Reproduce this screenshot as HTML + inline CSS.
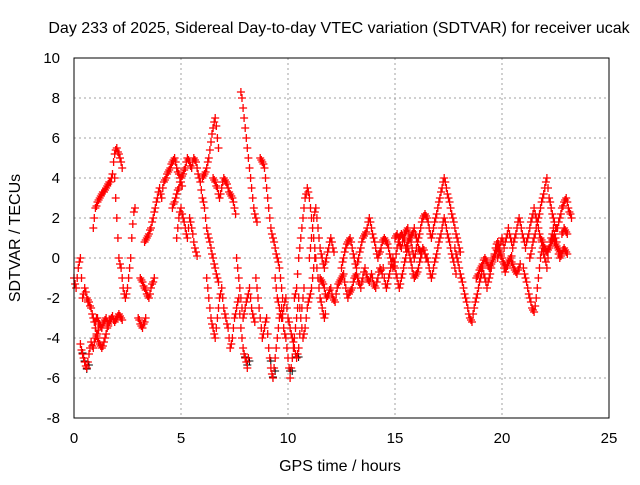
<!DOCTYPE html>
<html><head><meta charset="utf-8"><style>
body{margin:0;background:#fff}
svg text{font-family:"Liberation Sans",sans-serif;font-size:15px;fill:#000}
</style></head><body>
<svg id="chart" width="640" height="480" viewBox="0 0 640 480" xmlns="http://www.w3.org/2000/svg">
<rect x="0" y="0" width="640" height="480" fill="#fff"/>
<text x="339" y="33" text-anchor="middle" style="font-size:16px">Day 233 of 2025, Sidereal Day-to-day VTEC variation (SDTVAR) for receiver ucak</text>
<g id="grid"></g>
<g id="ticks"></g>
<g id="marks"></g>
<rect x="74" y="58" width="535" height="360" fill="none" stroke="#000" stroke-width="1"/>
<text x="340" y="471" text-anchor="middle" style="font-size:16px">GPS time / hours</text>
<text transform="translate(20,238) rotate(-90)" text-anchor="middle" style="font-size:16px">SDTVAR / TECUs</text>
</svg>
<script>
const xTicks=[0,5,10,15,20,25];
const yTicks=[-8,-6,-4,-2,0,2,4,6,8,10];
const trackStarts=[0.0,0.3,0.6,0.9,1.0,1.9,3.0,3.1,3.3,4.6,4.8,6.0,6.2,6.5,7.8,7.6,8.5,8.7,9.4,10.3,10.5,11.5,11.0,12.5,14.5,15.0,16.5,17.8,18.8,19.8,21.0,21.3,21.8,22.8,20.0];
const trackStep=0.1;
const trackValues=[
[-1,-1.5,-0.5,0,-2,-1.5,-2],
[-4.3,-4.8,-5.2,-5.5,-4.8,-4.2,-4.5,-4,-3.8],
[-2,-2.2,-2.5,-3,-3.5,-4,-4.3,-4.5,-4.2,-3.8,-3.3],
[1.5,2.5,2.8,3,3.2,3.3,3.5,3.7,3.8,4.2,5.2,5.5,5.2,4.8],
[-3.2,-3,-3.3,-3.5,-3.2,-3,-3.4,-3.1,-2.9,-3.2,-3,-2.8,-3],
[4,2,0,-0.5,-1.5,-2,-1.5,-0.5,1,2.3],
[-3,-3.3,-3.5,-3.2],
[-1,-1.2,-1.5,-1.8,-2,-1.5,-1.2],
[0.8,1,1.2,1.5,2,2.5,3,3.5,3,3.8,4,4.3,4.5,4.8,5,4.5,4.2,3.8],
[2.5,2.8,3.2,3.5,4,4.2,4.5,5,4.8,4.5,5,4.8,4.2,3.8,3,2.5,1.5,1,0.5,0,-0.5,-1],
[1,2,2.5,2,1.5,1,2,1.5,0.8,0.3],
[4,4.2,4.5,5,5.8,6.5,7,6],
[-1,-2,-3,-3.5,-4,-3,-2,-1.5,-2.5,-3,-3.5,-4.5,-4,-3,-2.5,-2,-3.5,-4.5,-5,-5.5],
[4,3.8,3.5,3,3.5,4,3.8,3.5,3.2,3,2.5],
[8.3,7.5,6.5,5.5,4.5,3.5,2.5,2],
[0,-1,-2,-3,-2.5,-2,-1.5,-2.5,-3],
[-1,-2,-3,-4,-3.5,-3,-4.5,-5.5,-6,-5,-4,-3,-2.5,-3.5,-4,-5,-6,-5,-4,-3],
[5,4.8,4.5,3.5,2.5,1.5,1,0.5,0,-0.5,-1.5],
[-1,-2,-2.5,-3,-2.5,-2,-3,-3.5,-4,-4.5,-5,-4.5,-3,-2],
[-2,-1.5,0,1,2,3,3.5,3,2,1,0,-1,-2,-2.5,-3],
[-2,-3,-4,-3.5,-2.5,-2,-1.5,-0.5],
[-1,-1.2,-1.5,-2,-1.8,-1.5,-2,-2.2,-1.5,-1.2,-1,-0.8,-1.5,-2,-1.7,-1.5,-1,-0.8,-1.2,-1.5,-1,-0.5,-1,-1.2,-0.8,-1.3,-1.5,-1,-0.5,-0.8],
[0,1,2,2.5,1.5,0.5,0,-0.5,0,0.5,1,0.5],
[-0.5,0,0.5,0.8,1,0.5,0,-0.5,0,0.5,1,1.2,1.5,2,1.5,1,0.5,0,0.3,0.8,1,0.8,0.5,0,-0.5,-0.2,0.5,1,1.2,1,0.5,0.8,1,1.2,1.5,1,0.5,0.3],
[-1,-1.5,-1,-0.5,0,-0.5,-1,-1.5,-1,-0.5,0,0.5,0,-0.5,-1,-0.8,-0.5,0,0.5,0.2],
[1,1.2,0.8,0.5,1,1.3,1.5,1,0.5,0,0.5,1,1.5,2,2.2,2,1.5,1,1.5,2,2.5,3,3.5,4,3.5,3,2.5,2,1.5,1,0.5],
[0,-0.5,-1,-0.5,0,0.5,1,1.5,2,1.5,1,0.5,0,-0.5],
[0.5,0,-0.5,-1,-1.5,-2,-2.5,-3,-3.2,-2.5,-2,-1.5,-1,-0.5,-1,-1.5,-1,-0.5,0,0.5,0.8,0.5,0,-0.5],
[-1,-0.8,-0.5,-0.3,0,-0.2,-0.5,-0.3,0,0.2,0.5,0.3,0,-0.3,-0.5,-0.2,0],
[0,0.5,1,0.5,1,1.5,1,0.5,1,1.5,2,1.5,1,0.5,1,1.5,2,2.5,2,1.5,1,0.5,0,-0.5,0.5,1,1.5,1,0.5,0],
[-0.5,-1,-1.5,-2,-2.5,-2.7,-2,-1,0],
[0,0.5,1,1.5,2,2.5,3,3.5,4,3,2.5,2,1.5,1.5,2,2.5,2.8,3,2.5,2.2],
[1,0.8,0.5,0.3,0.5,0.8,1,0.7,0.5,0.3,0.2,0.5,0.3],
[1.2,1.5,1.3],
[0,-0.3,-0.5,-0.2,0,-0.3,-0.6,-0.8,-0.5]
];
// second pass samples, offset by half a step (band scatter)
const twinValues=[
[-1.3,-1,-0.2,-1,-1.8,-1.7,-2.2],
[-4.6,-5,-5.4,-5.2,-4.5,-4.4,-4.2,-3.9,-3.6],
[-2.1,-2.4,-2.8,-3.2,-3.8,-4.2,-4.4,-4.4,-4,-3.5,-3.1],
[2,2.6,2.9,3.1,3.3,3.4,3.6,3.8,4,4.8,5.4,5.3,5,4.5],
[-3,-3.2,-3.4,-3.3,-3.1,-3.2,-3.2,-3,-3.1,-3.1,-2.9,-2.9,-3.1],
[3,1,-0.3,-1,-1.8,-1.8,-1,0,1.7,2.5],
[-3.1,-3.4,-3.3,-3],
[-1.1,-1.4,-1.6,-1.9,-1.8,-1.3,-1],
[0.9,1.1,1.4,1.8,2.3,2.8,3.3,3.2,3.5,3.9,4.2,4.4,4.7,4.9,4.8,4.3,4,3.6],
[2.7,3,3.4,3.8,4.1,4.4,4.8,4.9,4.6,4.8,4.9,4.5,4,3.4,2.8,2,1.2,0.8,0.2,-0.3,-0.8,-1.2],
[1.5,2.3,2.2,1.8,1.2,1.5,1.8,1.2,0.5,0.1],
[4.1,4.3,4.8,5.4,6.2,6.8,6.6,5.5],
[-1.5,-2.5,-3.3,-3.8,-3.5,-2.5,-1.8,-2,-2.8,-3.3,-4,-4.3,-3.5,-2.8,-2.2,-2.8,-4,-4.8,-5.2,-5],
[3.9,3.6,3.2,3.2,3.8,3.9,3.7,3.3,3.1,2.8,2.2],
[8,7,6,5,4,3,2.2,1.8],
[-0.5,-1.5,-2.5,-2.8,-2.2,-1.8,-2,-2.8,-3.2],
[-1.5,-2.5,-3.5,-3.8,-3.2,-3.8,-5,-5.8,-5.5,-4.5,-3.5,-2.8,-3,-3.8,-4.5,-5.5,-5.5,-4.5,-3.5,-2.5],
[4.9,4.7,4,3,2,1.2,0.8,0.2,-0.2,-1,-2],
[-1.5,-2.2,-2.8,-2.8,-2.2,-2.5,-3.2,-3.8,-4.2,-4.8,-4.8,-3.8,-2.5,-1.5],
[-1.8,-0.8,0.5,1.5,2.5,3.2,3.3,2.5,1.5,0.5,-0.5,-1.5,-2.2,-2.8,-2.8],
[-2.5,-3.5,-3.8,-3,-2.2,-1.8,-1,0],
[-1.1,-1.3,-1.8,-1.9,-1.6,-1.8,-2.1,-1.8,-1.3,-1.1,-0.9,-1.2,-1.8,-1.8,-1.6,-1.2,-0.9,-1,-1.3,-1.2,-0.7,-0.8,-1.1,-1,-1,-1.4,-1.2,-0.7,-0.6,-0.5],
[0.5,1.5,2.3,2,1,0.2,-0.3,-0.2,0.3,0.8,0.8,0.3],
[-0.2,0.3,0.7,0.9,0.8,0.2,-0.3,-0.2,0.3,0.8,1.1,1.3,1.8,1.8,1.2,0.8,0.2,0.2,0.5,0.9,0.9,0.7,0.2,-0.3,-0.4,0.2,0.8,1.1,1.1,0.8,0.6,0.9,1.1,1.3,1.2,0.8,0.4,0.2],
[-1.3,-1.3,-0.8,-0.2,-0.2,-0.8,-1.3,-1.3,-0.8,-0.2,0.3,0.3,-0.2,-0.8,-0.9,-0.7,-0.2,0.3,0.4,0],
[1.1,1,0.6,0.8,1.2,1.4,1.2,0.8,0.2,0.2,0.8,1.2,1.8,2.1,2.1,1.8,1.2,1.2,1.8,2.2,2.8,3.3,3.8,3.8,3.2,2.8,2.2,1.8,1.2,0.8,0.3],
[-0.2,-0.8,-0.8,-0.2,0.2,0.8,1.2,1.8,1.8,1.2,0.8,0.2,-0.2,-0.8],
[0.2,-0.2,-0.8,-1.2,-1.8,-2.2,-2.8,-3.1,-2.8,-2.2,-1.8,-1.2,-0.8,-0.8,-1.2,-1.2,-0.8,-0.2,0.2,0.7,0.7,0.2,-0.2,-0.7],
[-0.9,-0.6,-0.4,-0.1,-0.1,-0.4,-0.4,-0.1,0.1,0.4,0.4,0.1,-0.2,-0.4,-0.4,-0.1,0.1],
[0.2,0.8,0.8,0.8,1.2,1.2,0.8,0.8,1.2,1.8,1.8,1.2,0.8,0.8,1.2,1.8,2.2,2.2,1.8,1.2,0.8,0.2,-0.2,0,0.8,1.2,1.2,0.8,0.2,0.1],
[-0.8,-1.2,-1.8,-2.2,-2.6,-2.4,-1.5,-0.5,0.3],
[0.2,0.8,1.2,1.8,2.2,2.8,3.2,3.8,3.5,2.8,2.2,1.8,1.5,1.8,2.2,2.6,2.9,2.8,2.3,2],
[0.9,0.6,0.4,0.4,0.6,0.9,0.8,0.6,0.4,0.2,0.4,0.4,0.2],
[1.3,1.4,1.2],
[-0.2,-0.4,-0.3,-0.1,-0.2,-0.5,-0.7,-0.6,-0.3]
];
const X0=74,X1=609,Y0=418,Y1=58;
function xs(t){return X0+(t-0)/(25-0)*(X1-X0);}
function ys(v){return Y0-(v-(-8))/(10-(-8))*(Y0-Y1);}
const NS="http://www.w3.org/2000/svg";
const grid=document.getElementById('grid'),ticks=document.getElementById('ticks'),marks=document.getElementById('marks');
function mk(tag,attrs,parent){const e=document.createElementNS(NS,tag);for(const k in attrs)e.setAttribute(k,attrs[k]);parent.appendChild(e);return e;}
xTicks.forEach(t=>{const x=xs(t);
 if(t>0&&t<25){const g=mk('line',{x1:x,x2:x,y1:Y1,y2:Y0,stroke:'#a0a0a0','stroke-dasharray':'2,3'},grid);
 
 }
 const l=mk('text',{x:x,y:443,'text-anchor':'middle'},ticks);l.textContent=t;
 
 
});
yTicks.forEach(v=>{const y=ys(v);
 if(v>-8&&v<10){const g=mk('line',{x1:X0,x2:X1,y1:y,y2:y,stroke:'#a0a0a0','stroke-dasharray':'2,3'},grid);
 
 }
 const l=mk('text',{x:60,y:y+5,'text-anchor':'end'},ticks);l.textContent=v;
 
 
});
function plus(x,y){return `M${(x-4).toFixed(1)},${y.toFixed(1)}h8M${x.toFixed(1)},${(y-4).toFixed(1)}v8`;}
let dBlack='',d='';
twinValues.forEach((vals,i)=>{vals.forEach((v,j)=>{const x=xs(trackStarts[i]+(j+0.5)*trackStep),y=ys(v);
 if(v<-4.5)dBlack+=plus(x+1,y+3);
 d+=plus(x,y);});});
trackValues.forEach((vals,i)=>{vals.forEach((v,j)=>{const x=xs(trackStarts[i]+j*trackStep),y=ys(v);
 d+=plus(x,y);});});
const pb=mk('path',{d:dBlack,stroke:'#000','stroke-width':1,fill:'none'},marks);


const p=mk('path',{d:d,stroke:'#ff0000','stroke-width':1.3,fill:'none'},marks);


</script>
</body></html>
